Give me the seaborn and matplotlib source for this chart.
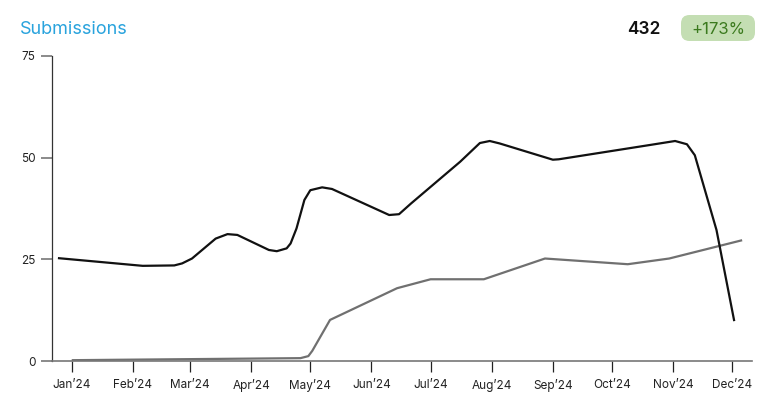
import matplotlib
matplotlib.use("Agg")
import matplotlib.pyplot as plt
from matplotlib.patches import FancyBboxPatch
import seaborn as sns
import pandas as pd

# ---- data ----
black_dates = ["2023-12-25", "2024-02-06", "2024-02-22", "2024-02-26", "2024-03-02",
               "2024-03-14", "2024-03-20", "2024-03-25", "2024-04-10", "2024-04-14",
               "2024-04-19", "2024-04-21", "2024-04-24", "2024-04-28", "2024-05-01",
               "2024-05-07", "2024-05-12", "2024-06-10", "2024-06-15", "2024-06-21",
               "2024-07-16", "2024-07-26", "2024-07-31", "2024-08-05", "2024-09-01",
               "2024-09-04", "2024-10-20", "2024-11-02", "2024-11-08", "2024-11-12",
               "2024-11-23", "2024-12-02"]
black_values = [25.3, 23.4, 23.5, 24.0, 25.2,
                30.1, 31.2, 31.0, 27.3, 27.0,
                27.7, 28.9, 32.6, 39.6, 42.0,
                42.7, 42.3, 35.9, 36.1, 38.7,
                49.0, 53.6, 54.1, 53.5, 49.5,
                49.6, 53.1, 54.1, 53.3, 50.6,
                32.2, 9.8]

gray_dates = ["2024-01-01", "2024-04-26", "2024-04-30", "2024-05-02", "2024-05-11",
              "2024-06-14", "2024-07-01", "2024-07-28", "2024-08-28", "2024-10-09",
              "2024-10-30", "2024-12-06"]
gray_values = [0.2, 0.7, 1.2, 2.5, 10.1, 17.9, 20.1, 20.1, 25.2, 23.8, 25.2, 29.7]

month_ticks = pd.date_range("2024-01-01", "2024-12-01", freq="MS")
month_labels = ["Jan\u201924", "Feb\u201924", "Mar\u201924", "Apr\u201924", "May\u201924", "Jun\u201924",
                "Jul\u201924", "Aug\u201924", "Sep\u201924", "Oct\u201924", "Nov\u201924", "Dec\u201924"]
y_ticks = [0, 25, 50, 75]

title = "Submissions"
total = "432"
change = "+173%"

# ---- figure ----
sns.set_theme(style="white")
plt.rcParams["font.family"] = ["Inter", "DejaVu Sans"]

fig = plt.figure(figsize=(7.75, 4.0), dpi=100)
ax = fig.add_axes([52 / 775, 39 / 400, 700 / 775, 305 / 400])

black_df = pd.DataFrame({"date": pd.to_datetime(black_dates), "value": black_values})
gray_df = pd.DataFrame({"date": pd.to_datetime(gray_dates), "value": gray_values})

sns.lineplot(data=gray_df, x="date", y="value", ax=ax, color="#707070", linewidth=1.6,
             solid_joinstyle="round", solid_capstyle="butt")
sns.lineplot(data=black_df, x="date", y="value", ax=ax, color="#111111", linewidth=1.6,
             solid_joinstyle="round", solid_capstyle="butt")

ax.set_xlim(pd.Timestamp("2023-12-22"), pd.Timestamp("2024-12-11"))
ax.set_ylim(0, 75)
ax.set_xticks(month_ticks)
ax.set_xticklabels(month_labels)
ax.set_yticks(y_ticks)
ax.set_yticklabels([str(v) for v in y_ticks])
ax.set_xlabel("")
ax.set_ylabel("")

for s in ["top", "right"]:
    ax.spines[s].set_visible(False)
ax.spines["left"].set_color("#333333")
ax.spines["left"].set_linewidth(0.9)
ax.spines["bottom"].set_color("#777777")
ax.spines["bottom"].set_linewidth(1.2)

ax.tick_params(axis="x", direction="out", length=8, width=0.9, color="#222222",
               labelsize=8.5, labelcolor="#222222", pad=5, bottom=True)
ax.tick_params(axis="y", direction="out", length=8, width=1.2, color="#777777",
               labelsize=8.5, labelcolor="#222222", pad=4, left=True)

# header
fig.text(20 / 775, 1 - 29 / 400, title, color="#29a3dd", fontsize=13,
         ha="left", va="center")
fig.text(660 / 775, 1 - 29 / 400, total, color="#111111", fontsize=12.5,
         fontweight="semibold", ha="right", va="center")
badge = FancyBboxPatch((681 / 775, 1 - 41 / 400), 74 / 775, 26 / 400,
                       boxstyle="round,pad=0,rounding_size=0.011",
                       transform=fig.transFigure, facecolor="#c4deb3",
                       edgecolor="none", mutation_aspect=775 / 400)
fig.patches.append(badge)
fig.text(718 / 775, 1 - 29 / 400, change, color="#3b7a1e", fontsize=12,
         ha="center", va="center")

fig.savefig("out.png", dpi=100)
